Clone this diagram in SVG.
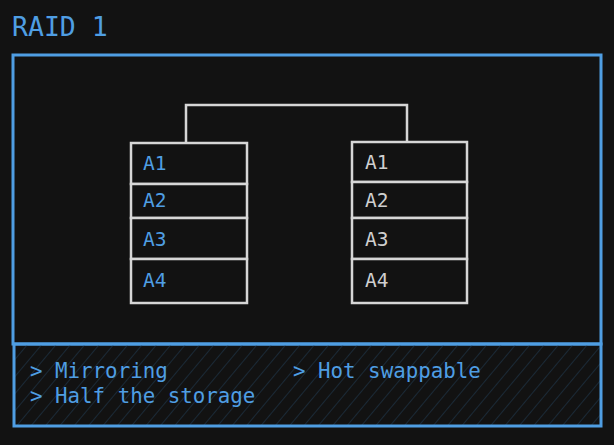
<svg xmlns="http://www.w3.org/2000/svg" width="614" height="445" viewBox="0 0 614 445">
<defs>
<pattern id="hatch" patternUnits="userSpaceOnUse" width="11" height="11" patternTransform="rotate(40)">
<line x1="0" y1="0" x2="0" y2="11" stroke="#1d3142" stroke-width="1.5"/>
</pattern>
<style>
.t{font-family:"DejaVu Sans Mono","Liberation Mono",monospace;}
.blue{fill:#4f9ee3;}
.gray{fill:#cfcfcf;}
.frame{fill:none;stroke:#4f9ee3;stroke-width:3;}
.cell{fill:#121212;stroke:#d6d6d6;stroke-width:2.5;}
.conn{fill:none;stroke:#d6d6d6;stroke-width:2.5;}
</style>
</defs>
<rect width="614" height="445" fill="#121212"/>
<g id="title"><text class="t blue" x="12" y="36" font-size="26.5">RAID 1</text></g>
<g id="outer"><rect class="frame" x="13" y="55" width="588" height="289"/></g>
<g id="notes">
<rect x="14" y="344" width="587" height="82" fill="url(#hatch)"/>
<rect class="frame" x="14" y="344" width="587" height="82"/>
<text class="t blue" x="30" y="378" font-size="20.8">&gt; Mirroring</text>
<text class="t blue" x="30" y="403" font-size="20.8">&gt; Half the storage</text>
<text class="t blue" x="293" y="378" font-size="20.8">&gt; Hot swappable</text>
</g>
<g id="connectors"><path class="conn" d="M186 142 V105 H407 V142"/></g>
<g id="disk1">
<rect class="cell" x="131" y="143" width="116" height="41"/>
<rect class="cell" x="131" y="184" width="116" height="34"/>
<rect class="cell" x="131" y="218" width="116" height="41"/>
<rect class="cell" x="131" y="259" width="116" height="44"/>
<text class="t blue" x="143" y="170" font-size="19.5">A1</text>
<text class="t blue" x="143" y="207" font-size="19.5">A2</text>
<text class="t blue" x="143" y="246" font-size="19.5">A3</text>
<text class="t blue" x="143" y="287" font-size="19.5">A4</text>
</g>
<g id="disk2">
<rect class="cell" x="352" y="142" width="115" height="40"/>
<rect class="cell" x="352" y="182" width="115" height="36"/>
<rect class="cell" x="352" y="218" width="115" height="41"/>
<rect class="cell" x="352" y="259" width="115" height="44"/>
<text class="t gray" x="365" y="169" font-size="19.5">A1</text>
<text class="t gray" x="365" y="207" font-size="19.5">A2</text>
<text class="t gray" x="365" y="246" font-size="19.5">A3</text>
<text class="t gray" x="365" y="287" font-size="19.5">A4</text>
</g>
</svg>
